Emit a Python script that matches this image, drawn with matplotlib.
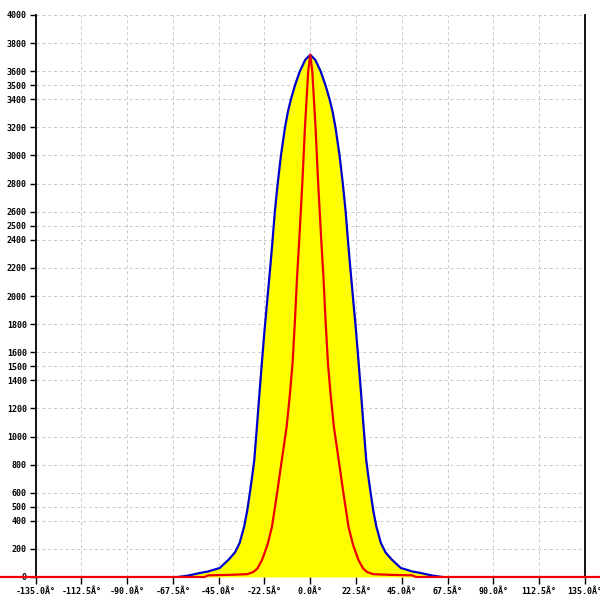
import matplotlib
matplotlib.use("Agg")
import matplotlib.pyplot as plt
import numpy as np

# Broad distribution (blue outline, yellow fill): angle (deg) -> value
blue_angles = [-65, -60, -54.4, -50, -44.5, -40, -37, -34.7, -32.5, -31, -29.7, -28.5,
               -27.5, -26.2, -25, -23.8, -22.5, -21, -19.5, -18.5, -17.4, -16.0, -14.4,
               -12.4, -11, -9.5, -7.5, -5.1, -2.5, 0,
               2.5, 5.1, 7.5, 9.5, 11, 12.4, 14.4, 16.0, 17.4, 18.5, 19.5, 21, 22.5,
               23.8, 25, 26.2, 27.5, 28.5, 29.7, 31, 32.5, 34.7, 37, 40, 44.5, 50,
               54.4, 60, 65]
blue_values = [0, 10, 28, 40, 64, 125, 175, 242, 358, 470, 596, 720,
               833, 1070, 1300, 1520, 1750, 1990, 2230, 2400, 2600, 2800, 3000,
               3200, 3310, 3400, 3500, 3600, 3680, 3717,
               3680, 3600, 3500, 3400, 3310, 3200, 3000, 2800, 2600, 2400, 2230, 1990, 1750,
               1520, 1300, 1070, 833, 720, 596, 470, 358, 242, 175, 125, 64, 40,
               28, 10, 0]

# Narrow distribution (red line)
red_angles = [-180, -52, -50, -40, -31, -28, -26, -23.7, -21, -18.8, -16.3, -14,
              -11.6, -10, -8.7, -7.5, -6.5, -5.4, -3.9, -2.6, -1.0, 0,
              1.0, 2.6, 3.9, 5.4, 6.5, 7.5, 8.7, 10, 11.6, 14, 16.3, 18.8, 21, 23.7,
              26, 28, 31, 40, 50, 52, 180]
red_values = [0, 0, 12, 15, 20, 35, 60, 121, 230, 358, 596, 830,
              1070, 1300, 1520, 1830, 2130, 2400, 2800, 3200, 3600, 3717,
              3600, 3200, 2800, 2400, 2130, 1830, 1520, 1300, 1070, 830, 596, 358, 230, 121,
              60, 35, 20, 15, 12, 0, 0]

x_ticks = [-135.0, -112.5, -90.0, -67.5, -45.0, -22.5, 0.0, 22.5, 45.0, 67.5, 90.0, 112.5, 135.0]
y_ticks = [0, 200, 400, 500, 600, 800, 1000, 1200, 1400, 1500, 1600, 1800, 2000, 2200,
           2400, 2500, 2600, 2800, 3000, 3200, 3400, 3500, 3600, 3800, 4000]

fig = plt.figure(figsize=(6, 6), dpi=100)
ax = fig.add_axes([35.5 / 600, 1 - 577 / 600, (585 - 35.5) / 600, (577 - 15) / 600])

ax.fill_between(blue_angles, blue_values, 0, color="#ffff00", linewidth=0, zorder=1.5)
ax.plot(blue_angles, blue_values, color="#0000cc", linewidth=1.6, zorder=3)
ax.plot(red_angles, red_values, color="#ee0000", linewidth=1.6, zorder=4, clip_on=False)

ax.set_xlim(-135, 135)
ax.set_ylim(0, 4000)

mono = "DejaVu Sans Mono"
ax.set_xticks(x_ticks)
ax.set_xticklabels([f"{t:.1f}Â°" for t in x_ticks], fontsize=6.0, family=mono, fontweight="bold")
ax.set_yticks(y_ticks)
ax.set_yticklabels([str(t) for t in y_ticks], fontsize=6.0, family=mono, fontweight="bold")

ax.tick_params(axis="y", direction="out", length=4.3, width=1.0, pad=2, color="black")
ax.tick_params(axis="x", direction="out", length=5, width=1.0, pad=2.5, color="black")

ax.grid(True, color="#c8c8c8", linestyle=(0, (3, 3)), linewidth=0.7, zorder=1)
ax.set_axisbelow(True)

ax.spines["top"].set_visible(False)
ax.spines["bottom"].set_visible(False)
ax.spines["left"].set_linewidth(1.3)
ax.spines["right"].set_linewidth(1.3)

fig.savefig("out.png", dpi=100, facecolor="white")
